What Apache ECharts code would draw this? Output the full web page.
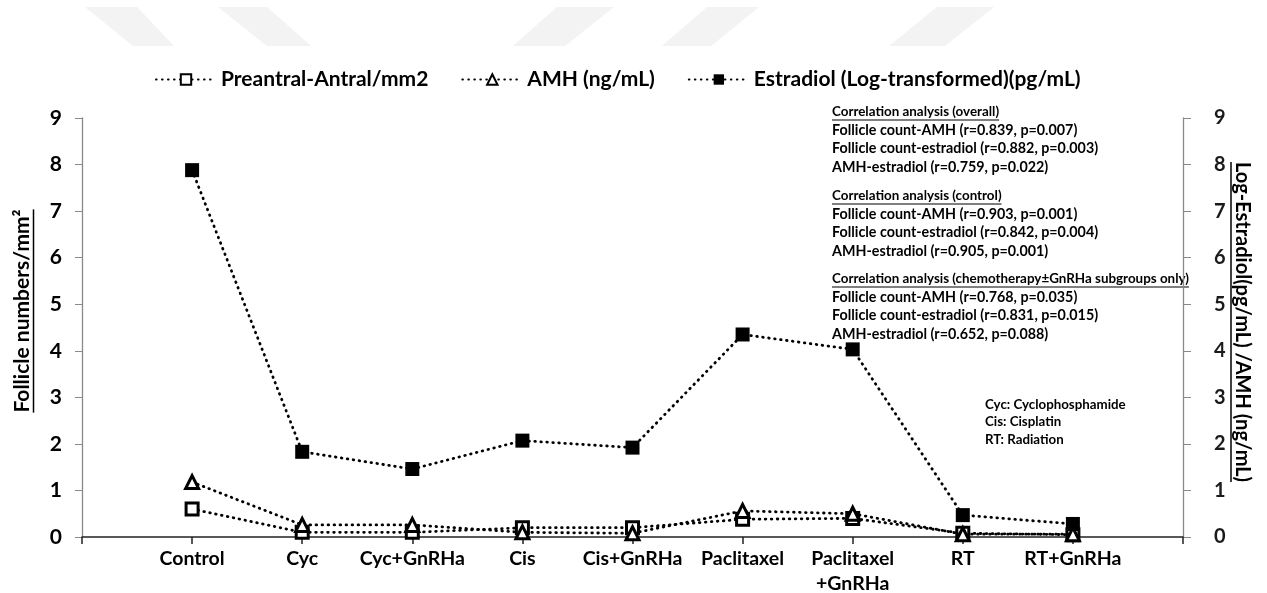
<!DOCTYPE html>
<html>
<head>
<meta charset="utf-8">
<script src="https://cdn.jsdelivr.net/npm/echarts@6/dist/echarts.min.js"></script>
<style>
  html, body { margin: 0; padding: 0; background: #fff; }
  #chart { width: 1267px; height: 593px; }
</style>
</head>
<body>
<div id="chart"></div>
<script>
// Treatment groups along the x axis
const categories = ['Control', 'Cyc', 'Cyc+GnRHa', 'Cis', 'Cis+GnRHa', 'Paclitaxel', 'Paclitaxel\n+GnRHa', 'RT', 'RT+GnRHa'];
// Preantral-antral follicles per mm2
const follicles = [0.60, 0.10, 0.10, 0.20, 0.20, 0.38, 0.40, 0.08, 0.05];
// AMH (ng/mL)
const amh = [1.18, 0.26, 0.26, 0.10, 0.08, 0.56, 0.50, 0.06, 0.06];
// Estradiol, log-transformed (pg/mL)
const estradiol = [7.88, 1.83, 1.46, 2.07, 1.92, 4.35, 4.03, 0.47, 0.28];
// Shared value range for both y axes
const yMin = 0, yMax = 9, yStep = 1;

const seriesNames = ['Preantral-Antral/mm2', 'AMH (ng/mL)', 'Estradiol (Log-transformed)(pg/mL)'];

// Correlation notes
const noteBlocks = [
  ['Correlation analysis (overall)', 'Follicle count-AMH (r=0.839, p=0.007)', 'Follicle count-estradiol (r=0.882, p=0.003)', 'AMH-estradiol (r=0.759, p=0.022)'],
  ['Correlation analysis (control)', 'Follicle count-AMH (r=0.903, p=0.001)', 'Follicle count-estradiol (r=0.842, p=0.004)', 'AMH-estradiol (r=0.905, p=0.001)'],
  ['Correlation analysis (chemotherapy\u00B1GnRHa subgroups only)', 'Follicle count-AMH (r=0.768, p=0.035)', 'Follicle count-estradiol (r=0.831, p=0.015)', 'AMH-estradiol (r=0.652, p=0.088)']
];
const abbreviations = ['Cyc: Cyclophosphamide', 'Cis: Cisplatin', 'RT: Radiation'];

const leftTitle = 'Follicle numbers/mm\u00B2';
const rightTitle = 'Log-Estradiol(pg/mL) /AMH (ng/mL)';

const FONT = 'Lato, "Liberation Sans", sans-serif';

// Pad the category axis so groups sit one step in from each end
const axisCats = [''].concat(categories, ['']);
const pad = arr => [null].concat(arr, [null]);

const measureCtx = document.createElement('canvas').getContext('2d');
function textWidth(str, font) {
  measureCtx.font = font;
  return measureCtx.measureText(str).width;
}

const dotLine = { color: '#000', width: 2.8, type: [0.6, 5.4], cap: 'round' };

const graphics = [];

// light decorative bands across the top
const bandColor = '#f3f3f3';
const bands = [
  [[85, 7], [137, 7], [174, 46], [133, 46]],
  [[218, 7], [267, 7], [311, 46], [267, 46]],
  [[557, 7], [614, 7], [565, 46], [513, 46]],
  [[707, 7], [759, 7], [711, 46], [662, 46]],
  [[937, 7], [994, 7], [945, 46], [889, 46]]
];
bands.forEach(p => graphics.push({ type: 'polygon', shape: { points: p }, style: { fill: bandColor }, silent: true, z: -1 }));

// correlation notes
const headFont = 'bold 13.4px ' + FONT;
const bodyFont = 'bold 14.3px ' + FONT;
const blockTops = [112, 196, 279];
const lineGap = 18.3;
noteBlocks.forEach((block, bi) => {
  block.forEach((line, li) => {
    const y = blockTops[bi] + li * lineGap;
    const f = li === 0 ? headFont : bodyFont;
    graphics.push({
      type: 'text', x: 832, y: y,
      style: { text: line, font: f, fill: '#000', verticalAlign: 'middle' }
    });
    if (li === 0) {
      const w = textWidth(line, f);
      graphics.push({
        type: 'line', shape: { x1: 832, y1: y + 8, x2: 832 + w, y2: y + 8 },
        style: { stroke: '#000', lineWidth: 1.2 }
      });
    }
  });
});

// abbreviation key
abbreviations.forEach((line, i) => {
  graphics.push({
    type: 'text', x: 985, y: 405 + i * 17.2,
    style: { text: line, font: 'bold 13.3px ' + FONT, fill: '#000', verticalAlign: 'middle' }
  });
});

// axis titles (rotated, underlined)
const titleFont = 'bold 21px ' + FONT;
const ltW = textWidth(leftTitle, titleFont);
graphics.push({
  type: 'text', x: 22, y: 311, rotation: Math.PI / 2,
  style: { text: leftTitle, font: titleFont, fill: '#000', align: 'center', verticalAlign: 'middle' }
});
graphics.push({
  type: 'line', shape: { x1: 33.5, y1: 311 - ltW / 2, x2: 33.5, y2: 311 + ltW / 2 },
  style: { stroke: '#000', lineWidth: 1.5 }
});
const rtFont = 'bold 20px ' + FONT;
const rtW = textWidth(rightTitle, rtFont);
graphics.push({
  type: 'text', x: 1242, y: 322, rotation: -Math.PI / 2,
  style: { text: rightTitle, font: rtFont, fill: '#000', align: 'center', verticalAlign: 'middle' }
});
graphics.push({
  type: 'line', shape: { x1: 1231, y1: 322 - rtW / 2, x2: 1231, y2: 322 + rtW / 2 },
  style: { stroke: '#000', lineWidth: 1.5 }
});

const chart = echarts.init(document.getElementById('chart'), null, { renderer: 'canvas' });

const option = {
  backgroundColor: '#fff',
  animation: false,
  textStyle: { fontFamily: FONT },
  legend: {
    data: seriesNames,
    left: 150, top: 64,
    itemWidth: 60, itemHeight: 13, itemGap: 33,
    textStyle: { fontFamily: FONT, fontWeight: 'bold', fontSize: 21, color: '#000' }
  },
  grid: { left: 82, right: 84, top: 118, bottom: 56, outerBoundsMode: 'none' },
  xAxis: {
    type: 'category',
    data: axisCats,
    boundaryGap: false,
    axisLine: { lineStyle: { color: '#222', width: 1.5 } },
    axisTick: { show: true, length: 7, lineStyle: { color: '#222', width: 1.5 } },
    axisLabel: {
      interval: 0, margin: 9, color: '#000',
      fontFamily: FONT, fontWeight: 'bold', fontSize: 19.5, lineHeight: 25
    },
    splitLine: { show: false }
  },
  yAxis: [
    {
      type: 'value', min: yMin, max: yMax, interval: yStep, position: 'left',
      axisLine: { show: true, lineStyle: { color: '#8a8a8a', width: 1.3 } },
      axisTick: { show: true, length: 7, lineStyle: { color: '#8a8a8a' } },
      axisLabel: { margin: 20, color: '#000', fontFamily: FONT, fontWeight: 'bold', fontSize: 21 },
      splitLine: { show: false }
    },
    {
      type: 'value', min: yMin, max: yMax, interval: yStep, position: 'right',
      axisLine: { show: true, lineStyle: { color: '#8a8a8a', width: 1.3 } },
      axisTick: { show: true, length: 8, lineStyle: { color: '#8a8a8a' } },
      axisLabel: { margin: 31, color: '#1a1a1a', fontFamily: FONT, fontWeight: 'bold', fontSize: 20 },
      splitLine: { show: false }
    }
  ],
  series: [
    {
      name: seriesNames[0], type: 'line', yAxisIndex: 0,
      data: pad(follicles),
      symbol: 'rect', symbolSize: 12,
      itemStyle: { color: '#fff', borderColor: '#000', borderWidth: 3 },
      lineStyle: dotLine, z: 3
    },
    {
      name: seriesNames[1], type: 'line', yAxisIndex: 1,
      data: pad(amh),
      symbol: 'triangle', symbolSize: 13,
      itemStyle: { color: '#fff', borderColor: '#000', borderWidth: 3 },
      lineStyle: dotLine, z: 4
    },
    {
      name: seriesNames[2], type: 'line', yAxisIndex: 1,
      data: pad(estradiol),
      symbol: 'rect', symbolSize: 14,
      itemStyle: { color: '#000', borderColor: '#000', borderWidth: 0 },
      lineStyle: dotLine, z: 5
    }
  ],
  graphic: graphics
};

chart.setOption(option);
</script>
</body>
</html>
